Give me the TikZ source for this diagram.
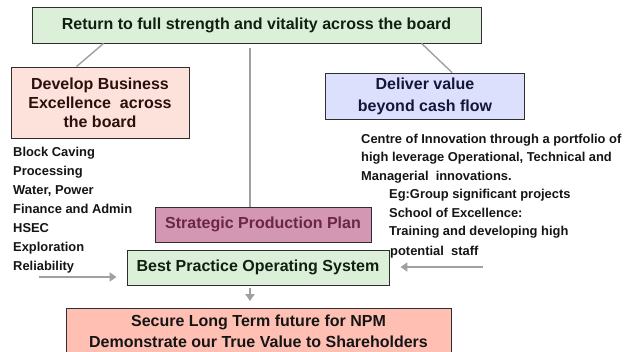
\documentclass[tikz,border=0pt]{standalone}
\usepackage{fontspec}
\setmainfont{Liberation Sans}
\usetikzlibrary{calc,arrows.meta}
\definecolor{boxgreen}{HTML}{DCEFD8}
\definecolor{boxpink}{HTML}{FDE1DB}
\definecolor{boxblue}{HTML}{DDE0FD}
\definecolor{boxmauve}{HTML}{D396B3}
\definecolor{mauvetext}{HTML}{6A2648}
\definecolor{boxsalmon}{HTML}{FFC0B3}
\definecolor{edge}{HTML}{2E2E2E}
\definecolor{conncol}{HTML}{A0A0A0}
\definecolor{ink}{HTML}{151515}
\definecolor{greenink}{HTML}{102010}
\definecolor{pinkink}{HTML}{2A100C}
\definecolor{blueink}{HTML}{16163A}
\tikzset{
  box/.style={draw=edge, line width=0.9pt, inner sep=0pt, align=center, text=ink,
    font=\fontsize{16}{19}\selectfont\bfseries},
  conn/.style={draw=conncol, line width=1.4pt},
  arr/.style={draw=conncol, line width=2pt, -{Triangle[length=7pt,width=9pt]}},
  plain/.style={inner sep=0pt, align=left, text=ink, font=\fontsize{12.9}{19}\selectfont\bfseries}
}
\begin{document}
\begin{tikzpicture}[x=1pt,y=-1pt]
\clip (0,0) rectangle (624,351);
\fill[white] (0,0) rectangle (624,351);
% boxes
\node[box, fill=boxgreen, text=greenink, minimum width=449pt, minimum height=36pt] (top) at (256.5,25) {Return to full strength and vitality across the board};
\node[box, fill=boxpink, text=pinkink, minimum width=178pt, minimum height=71pt] (pink) at (100,102.5) {Develop Business\\Excellence\ \ across\\the board};
\node[box, fill=boxblue, text=blueink, minimum width=199pt, minimum height=46pt, font=\fontsize{16}{22}\selectfont\bfseries] (blue) at (425,96) {\raisebox{-2pt}{Deliver value}\\\raisebox{-2pt}{beyond cash flow}};
\node[box, fill=boxmauve, text=mauvetext, minimum width=216pt, minimum height=35pt] (strat) at (263,224.5) {Strategic Production Plan};
\node[box, fill=boxgreen, text=greenink, minimum width=262pt, minimum height=35pt] (best) at (258,267.5) {Best Practice Operating System};
\node[box, fill=boxsalmon, minimum width=385pt, minimum height=46pt, font=\fontsize{16}{21}\selectfont\bfseries] (bottom) at (258.5,331.5) {Secure Long Term future for NPM\\Demonstrate our True Value to Shareholders};
% text lists
\node[plain, anchor=west] (leftlist) at (13,210) {Block Caving\\Processing\\Water, Power\\Finance and Admin\\HSEC\\Exploration\\Reliability};
\node[plain, anchor=west, font=\fontsize{12.9}{18.5}\selectfont\bfseries] (rightlist) at (361,186.25) {Centre of Innovation through a portfolio of\\high leverage Operational, Technical and\\Managerial\ \ innovations.\\\hspace{28pt}Eg:Group significant projects\\\hspace{28pt}School of Excellence:\\\hspace{28pt}Training and developing high};
\node[plain, anchor=west] (potential) at (390,252) {potential\ \ staff};
% connectors
\draw[conn] ($(top.south west)+(72,0)$) -- ($(pink.north west)+(66,0)$);
\draw[conn] ($(top.south)+(-6.5,5)$) -- ($(strat.north)+(-13,0)$);
\draw[conn] ($(top.south west)+(390,0)$) -- ($(blue.north west)+(127,0)$);
\coordinate (la) at (39,277);
\coordinate (ra) at (483,267);
\draw[arr] (la) -- ($(best.west)+(-10,9.5)$);
\draw[arr] (ra) -- ($(best.east)+(11,-0.5)$);
\draw[arr] ($(best.south)+(-8,3)$) -- ($(bottom.north)+(-8.5,-7)$);
\end{tikzpicture}
\end{document}
